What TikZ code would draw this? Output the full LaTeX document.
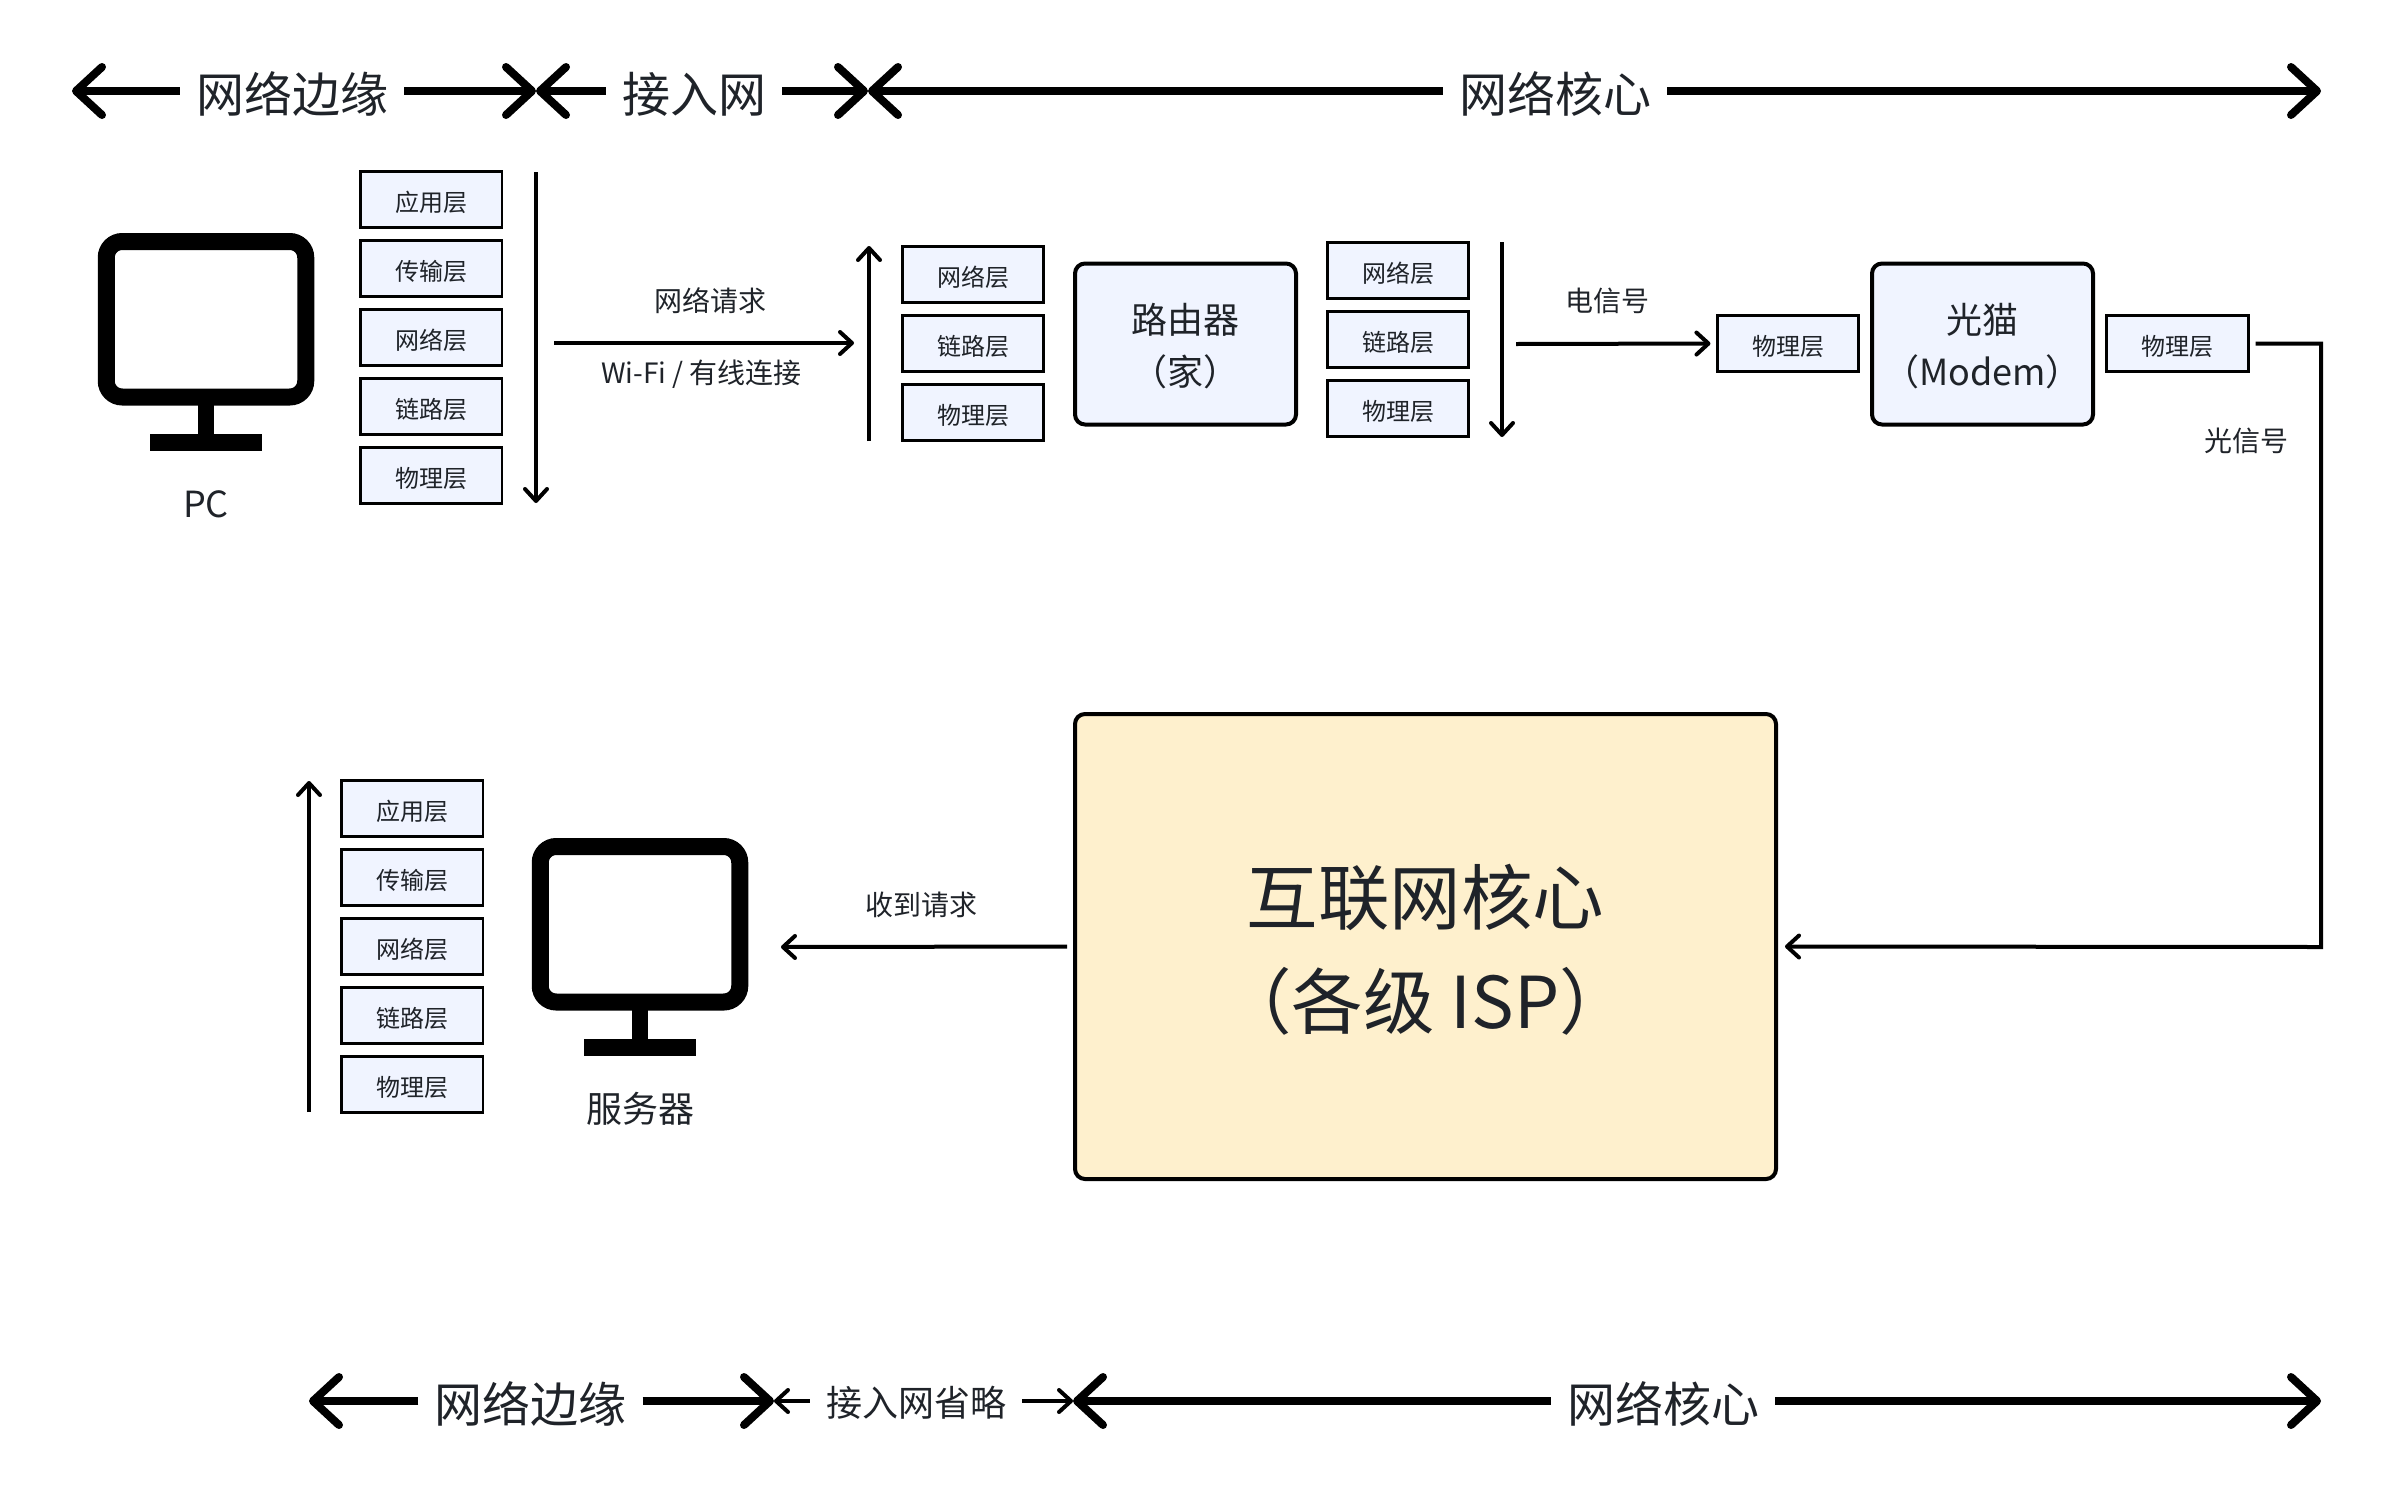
\documentclass[tikz,border=0pt]{standalone}
\usepackage{fontspec}
\setmainfont[RawFeature={+halt}]{Noto Sans CJK SC}
\usetikzlibrary{arrows.meta}
\definecolor{inktext}{HTML}{1F2329}
\definecolor{layerblue}{HTML}{F0F4FF}
\definecolor{coreyellow}{HTML}{FEF0CD}
\tikzset{
  monitor/.pic={
    \draw[line width=17pt, rounded corners=16pt] (-99.75,8.5) rectangle (99.75,164);
    \fill (-8.25,170) rectangle (8.25,202);
    \fill (-56,201) rectangle (56,218);
  }
}

\begin{document}
\begin{tikzpicture}[x=1pt, y=-1pt]
        \tikzstyle{every node}=[text=inktext]
        \tikzstyle{layerbox}=[draw, fill=layerblue, line width=2.6pt, minimum width=141.5pt, minimum height=56pt, inner sep=0pt, text height=24pt, text depth=0pt, font=\fontsize{24}{28}\selectfont]
        \tikzstyle{devicebox}=[draw, fill=layerblue, line width=4pt, rounded corners=10pt, minimum width=221pt, minimum height=161pt, align=center, text depth=-3pt, font=\fontsize{36}{52}\selectfont]
        \tikzstyle{corebox}=[draw, fill=coreyellow, line width=4pt, rounded corners=10pt, minimum width=701pt, minimum height=465pt, align=center, text depth=-2pt, font=\fontsize{71.5}{104}\selectfont]
        \tikzstyle{bandtext}=[inner xsep=16pt, inner ysep=0pt, text height=46pt, text depth=3pt, font=\fontsize{48}{50}\selectfont]
        \tikzstyle{smallband}=[inner xsep=16pt, inner ysep=0pt, text height=34pt, text depth=4pt, font=\fontsize{36}{40}\selectfont]
        \tikzstyle{linklabel}=[inner sep=0pt, text height=24.6pt, text depth=3.4pt, font=\fontsize{28}{30}\selectfont]
        \tikzstyle{hostlabel}=[inner sep=0pt, text height=31.7pt, text depth=4.3pt, font=\fontsize{36}{40}\selectfont]
        \tikzstyle{bandline}=[line width=8pt, -{Straight Barb[length=26pt, width=48pt, line width=8pt, round]}]
        \tikzstyle{thinline}=[line width=4pt, -{Straight Barb[length=12pt, width=22pt, line width=4pt, round]}]

        \useasboundingbox (0,0) rectangle (2402,1494);

% Bands along the top: edge, access, core

        \coordinate (topEdgeL) at (72,91);
        \coordinate (topEdgeR) at (536,91);
        \coordinate (topAccessR) at (868,91);
        \coordinate (topCoreR) at (2321,91);
        \node[bandtext] (topEdge) at (292,91) {网络边缘};
        \node[bandtext] (topAccess) at (694,91) {接入网};
        \node[bandtext] (topCore) at (1555,91) {网络核心};
        \draw[bandline] (topEdge.west) -- (topEdgeL);
        \draw[bandline] (topEdge.east) -- (topEdgeR);
        \draw[bandline] (topAccess.west) -- (topEdgeR);
        \draw[bandline] (topAccess.east) -- (topAccessR);
        \draw[bandline] (topCore.west) -- (topAccessR);
        \draw[bandline] (topCore.east) -- (topCoreR);

% PC and its protocol stack

        \pic at (206,233) {monitor};
        \node[hostlabel] (pcName) at (206,504) {PC};
        \node[layerbox] (pcApp) at (431.2,199.5) {应用层};
        \node[layerbox] (pcTrans) at (431.2,268.5) {传输层};
        \node[layerbox] (pcNet) at (431.2,337.5) {网络层};
        \node[layerbox] (pcLink) at (431.2,406.5) {链路层};
        \node[layerbox] (pcPhy) at (431.2,475.5) {物理层};
        \coordinate (pcDownA) at (536,172);
        \coordinate (pcDownB) at (536,503);
        \draw[thinline] (pcDownA) -- (pcDownB);

% Home router with its two stacks

        \coordinate (wifiA) at (554,343);
        \coordinate (wifiB) at (854,343);
        \draw[thinline] (wifiA) -- (wifiB);
        \node[linklabel] (wifiTop) at (710,301) {网络请求};
        \node[linklabel] (wifiLow) at (701.5,373) {Wi-Fi / 有线连接};
        \coordinate (rtUpA) at (869,441);
        \coordinate (rtUpB) at (869,246);
        \draw[thinline] (rtUpA) -- (rtUpB);
        \node[layerbox] (rtInNet) at (973,274.5) {网络层};
        \node[layerbox] (rtInLink) at (973,343.5) {链路层};
        \node[layerbox] (rtInPhy) at (973,412.5) {物理层};
        \node[devicebox] (router) at (1185.5,344) {路由器\\（家）};
        \node[layerbox] (rtOutNet) at (1398,270.5) {网络层};
        \node[layerbox] (rtOutLink) at (1398,339.5) {链路层};
        \node[layerbox] (rtOutPhy) at (1398,408.5) {物理层};
        \coordinate (rtDownA) at (1502,242);
        \coordinate (rtDownB) at (1502,437);
        \draw[thinline] (rtDownA) -- (rtDownB);

% Modem and the way to the internet core

        \coordinate (wireA) at (1516,344);
        \node[linklabel] (wireName) at (1607,301) {电信号};
        \node[layerbox] (modemIn) at (1788,343.5) {物理层};
        \draw[thinline, shorten >=5.5pt] (wireA) -- (modemIn.west);
        \node[devicebox] (modem) at (1982.5,344) {光猫\\（Modem）};
        \node[layerbox] (modemOut) at (2177.5,343.5) {物理层};
        \node[linklabel] (fibreName) at (2246,441) {光信号};
        \node[corebox] (core) at (1425.5,946.5) {互联网核心\\（各级 ISP）};
        \coordinate (fibreTurn) at (2321,947);
        \draw[thinline, shorten <=6pt, shorten >=7pt] (modemOut.east) -| (fibreTurn) -- (core.east);

% Server side, the stack is climbed back up

        \coordinate (srvTip) at (781,947);
        \draw[thinline, shorten <=6pt] (core.west) -- (srvTip);
        \node[linklabel] (srvMsg) at (921,904.5) {收到请求};
        \pic at (640,838) {monitor};
        \node[hostlabel] (srvName) at (640.5,1109) {服务器};
        \node[layerbox] (srvApp) at (412.2,808.5) {应用层};
        \node[layerbox] (srvTrans) at (412.2,877.5) {传输层};
        \node[layerbox] (srvNet) at (412.2,946.5) {网络层};
        \node[layerbox] (srvLink) at (412.2,1015.5) {链路层};
        \node[layerbox] (srvPhy) at (412.2,1084.5) {物理层};
        \coordinate (srvUpA) at (309,1112);
        \coordinate (srvUpB) at (309,781);
        \draw[thinline] (srvUpA) -- (srvUpB);

% Bands along the bottom, the access part is only named

        \coordinate (lowEdgeL) at (309,1401);
        \coordinate (lowEdgeR) at (774,1401);
        \coordinate (lowCoreL) at (1073,1401);
        \coordinate (lowCoreR) at (2321,1401);
        \node[bandtext] (lowEdge) at (530.5,1401) {网络边缘};
        \node[smallband] (lowAccess) at (916,1401) {接入网省略};
        \node[bandtext] (lowCore) at (1663,1401) {网络核心};
        \draw[bandline] (lowEdge.west) -- (lowEdgeL);
        \draw[bandline] (lowEdge.east) -- (lowEdgeR);
        \draw[thinline] (lowAccess.west) -- (lowEdgeR);
        \draw[thinline] (lowAccess.east) -- (lowCoreL);
        \draw[bandline] (lowCore.west) -- (lowCoreL);
        \draw[bandline] (lowCore.east) -- (lowCoreR);

    \end{tikzpicture}
\end{document}
